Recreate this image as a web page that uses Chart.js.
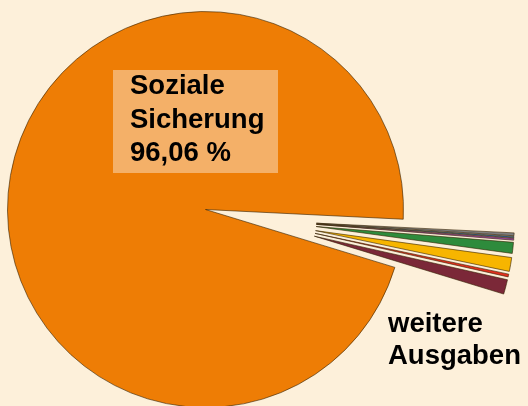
<!DOCTYPE html>
<html>
<head>
<meta charset="utf-8">
<script src="https://cdn.jsdelivr.net/npm/chart.js@4/dist/chart.umd.min.js"></script>
<style>
 body { margin: 0; background: #FDF0DA; overflow: hidden; }
 #wrap { position: relative; width: 528px; height: 406px; }
 #c { position: absolute; left: 0; top: 0; }
 .lbl { position: absolute; font-family: "Liberation Sans", Arial, sans-serif; font-weight: bold; font-size: 27.5px; color: #000; white-space: nowrap; }
 #box { position: absolute; left: 113px; top: 70px; width: 165px; height: 103px; background: #F4B068; }
</style>
</head>
<body>
<div id="wrap">
 <canvas id="c" width="528" height="406"></canvas>
 <div id="box"></div>
 <div class="lbl" style="left:130px; top:68px; line-height:33.5px;">Soziale<br>Sicherung<br>96,06 %</div>
 <div class="lbl" style="left:388px; top:307px; line-height:32px;">weitere<br>Ausgaben</div>
</div>
<script>
// anteile in prozent, Reihenfolge im Uhrzeigersinn
const labels = ['Soziale Sicherung', 'grau', 'blau', 'lila', 'gruen', 'gelb', 'rot', 'weinrot'];
const values = [96.06, 0.23, 0.11, 0.15, 0.90, 1.13, 0.23, 1.19];
const colors = ['#EE7D05', '#7F7F7F', '#2E75B6', '#9E4FA3', '#2E8B3C', '#F7B500', '#E0301E', '#7B2838'];

// kleine Stücke herausziehen: jeweils entlang der eigenen Mitte + gemeinsamer Versatz (px)
const explode = 65;
const shiftX = 46, shiftY = 10;

const explodePlugin = {
 id: 'explode',
 afterUpdate(chart) {
  const meta = chart.getDatasetMeta(0);
  meta.data.forEach((arc, i) => {
   if (i == 0) return;
   const mid = (arc.startAngle + arc.endAngle) / 2;
   arc.x += Math.cos(mid) * explode + shiftX;
   arc.y += Math.sin(mid) * explode + shiftY;
  });
 }
};

const ctx = document.getElementById('c').getContext('2d');
new Chart(ctx, {
 type: 'pie',
 data: {
  labels: labels,
  datasets: [{
   data: values,
   backgroundColor: colors,
   borderColor: 'rgba(50,30,0,0.85)',
   borderWidth: 0.7
  }]
 },
 options: {
  responsive: false,
  animation: false,
  events: [],
  rotation: 107.0,
  radius: 198,
  layout: { padding: { left: 0, right: 117, top: 13, bottom: 0 } },
  plugins: {
   legend: { display: false },
   tooltip: { enabled: false }
  }
 },
 plugins: [explodePlugin]
});
</script>
</body>
</html>
